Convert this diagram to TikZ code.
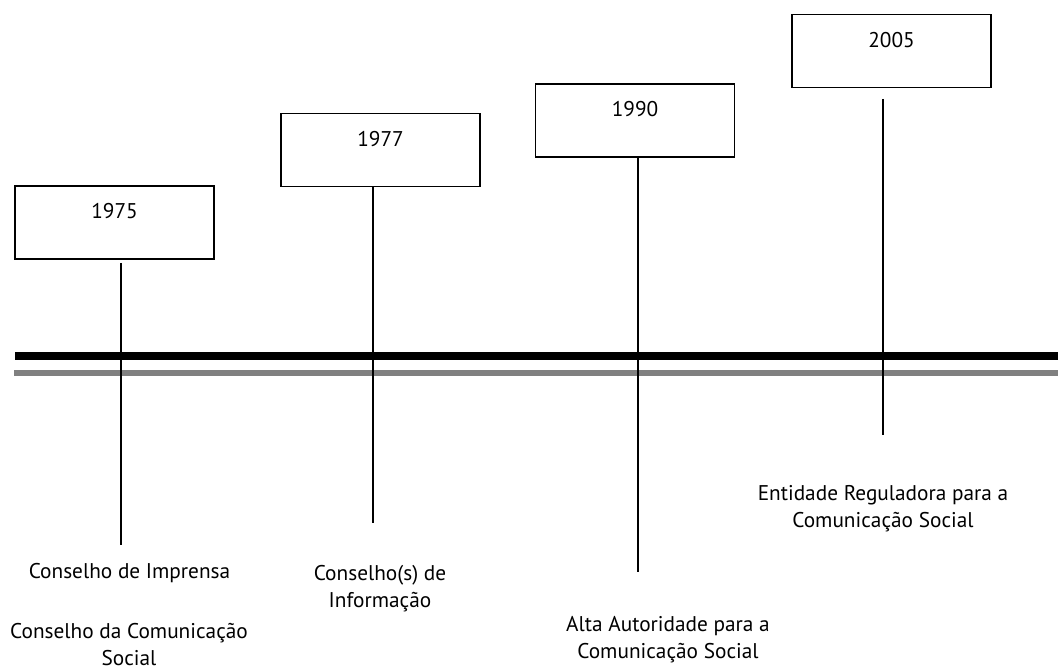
\documentclass[tikz,border=0pt]{standalone}
\usepackage{fontspec}
\setmainfont{PT Sans}
\begin{document}
\begin{tikzpicture}[x=1pt,y=-1pt,
  yearbox/.style={draw=black,line width=1.6pt,fill=white,anchor=base,inner xsep=0pt,inner ysep=0pt,
    minimum width=199pt,text height=33pt,text depth=40pt,font=\fontsize{21.3}{27}\selectfont},
  lbl/.style={anchor=base,align=center,inner sep=0pt,font=\fontsize{21.3}{27}\selectfont},
  stem/.style={line width=1.8pt,black},
  blackbar/.style={line width=8pt,black},
  graybar/.style={line width=6pt,color={rgb,255:red,128;green,128;blue,128}}]
\useasboundingbox (0,0) rectangle (1058,668);
% timeline bars
\coordinate (bl) at (15,356.5);
\coordinate (br) at (1058,356.5);
\coordinate (gl) at (14,373.5);
\coordinate (gr) at (1058,373.5);
\draw[blackbar] (bl) -- (br);
\draw[graybar] (gl) -- (gr);
% year boxes
\node[yearbox] (y1975) at (114.5,219) {1975};
\node[yearbox] (y1977) at (380.5,146.5) {1977};
\node[yearbox] (y1990) at (635,117) {1990};
\node[yearbox] (y2005) at (891.5,47.5) {2005};
% stem ends
\coordinate (s1975a) at (121,263);
\coordinate (s1975b) at (121,545);
\coordinate (s1977b) at (373,523);
\coordinate (s1990b) at (638,572);
\coordinate (s2005a) at (883,99);
\coordinate (s2005b) at (883,435);
\draw[stem] (s1975a) -- (s1975b);
\draw[stem] (y1977.south -| s1977b) -- (s1977b);
\draw[stem] (y1990.south -| s1990b) -- (s1990b);
\draw[stem] (s2005a) -- (s2005b);
% labels (base = baseline of last line)
\node[lbl] (l1) at (129.5,578) {Conselho de Imprensa};
\node[lbl] (l2) at (129,665) {Conselho da Comunicação\\Social};
\node[lbl] (l3) at (380,607) {Conselho(s) de\\Informação};
\node[lbl] (l4) at (668,658) {Alta Autoridade para a\\Comunicação Social};
\node[lbl] (l5) at (883,527) {Entidade Reguladora para a\\Comunicação Social};
\end{tikzpicture}
\end{document}
